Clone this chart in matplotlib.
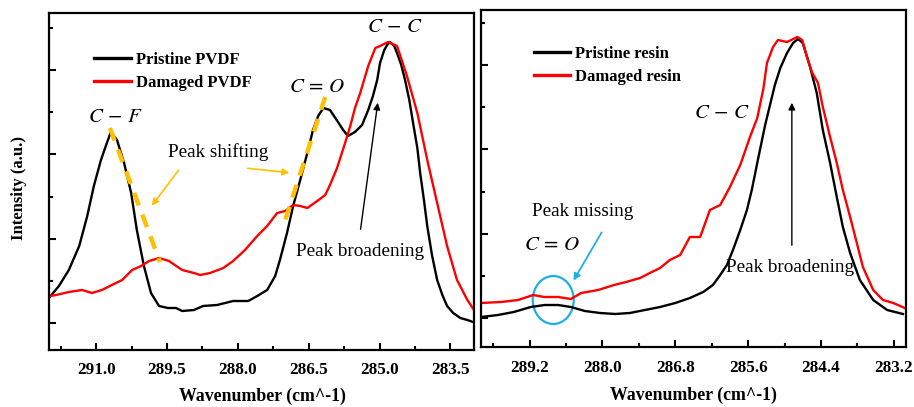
import matplotlib
matplotlib.use("Agg")
import matplotlib.pyplot as plt
from matplotlib.patches import Ellipse
from matplotlib.ticker import FixedLocator, FormatStrFormatter
import numpy as np

plt.rcParams['font.family'] = ['Liberation Serif', 'DejaVu Serif']
plt.rcParams['mathtext.fontset'] = 'stix'

# ---------------- Left panel: PVDF ----------------
pvdf_pristine_x = [292.00, 291.79, 291.58, 291.36, 291.19, 291.05, 290.90, 290.79, 290.69, 290.56,
                   290.41, 290.26, 290.14, 289.99, 289.84, 289.67, 289.48, 289.31, 289.18, 288.93,
                   288.74, 288.44, 288.10, 287.78, 287.59, 287.38, 287.21, 287.11, 286.96, 286.83,
                   286.68, 286.53, 286.41, 286.30, 286.19, 286.05, 285.88, 285.77, 285.67, 285.52,
                   285.37, 285.24, 285.14, 285.05, 284.99, 284.90, 284.84, 284.78, 284.69, 284.63,
                   284.54, 284.46, 284.37, 284.29, 284.20, 284.14, 284.06, 283.99, 283.89, 283.78,
                   283.67, 283.57, 283.44, 283.29, 283.14, 283.02]
pvdf_pristine_y = [52, 64, 80, 104, 134, 164, 190, 205, 218, 210,
                   187, 157, 120, 84, 57, 44, 42, 42, 39, 40,
                   44, 45, 49, 49, 54, 60, 74, 90, 117, 144,
                   170, 197, 220, 234, 242, 240, 228, 220, 214, 218,
                   225, 240, 254, 270, 287, 300, 305, 308, 304, 297,
                   285, 270, 250, 227, 202, 177, 150, 124, 95, 70,
                   55, 44, 37, 32, 30, 28]

pvdf_damaged_x = [291.98, 291.85, 291.58, 291.30, 291.09, 290.88, 290.67, 290.45, 290.24, 290.05,
                  289.88, 289.67, 289.46, 289.18, 288.93, 288.80, 288.59, 288.31, 288.10, 287.85,
                  287.59, 287.38, 287.17, 287.00, 286.83, 286.68, 286.53, 286.32, 286.15, 286.05,
                  285.90, 285.73, 285.62, 285.52, 285.41, 285.24, 285.09, 284.99, 284.82, 284.63,
                  284.42, 284.20, 283.99, 283.78, 283.57, 283.36, 283.14, 283.00]
pvdf_damaged_y = [54, 55, 58, 60, 57, 60, 65, 70, 80, 84,
                  89, 92, 89, 80, 77, 75, 77, 82, 89, 100,
                  114, 124, 137, 139, 145, 144, 142, 149, 155, 165,
                  182, 207, 224, 242, 257, 284, 302, 304, 308, 304,
                  274, 237, 190, 147, 104, 70, 50, 40]

# ---------------- Right panel: resin ----------------
resin_pristine_x = [290.00, 289.72, 289.46, 289.18, 288.95, 288.73, 288.52, 288.29, 288.04, 287.79,
                    287.55, 287.30, 287.05, 286.80, 286.56, 286.34, 286.18, 286.06, 285.95, 285.85,
                    285.73, 285.62, 285.54, 285.44, 285.32, 285.24, 285.16, 285.07, 284.96, 284.86,
                    284.78, 284.70, 284.58, 284.47, 284.37, 284.25, 284.14, 284.04, 283.92, 283.76,
                    283.54, 283.31, 283.05]
resin_pristine_y = [30, 32, 35, 40, 42, 42, 40, 36, 34, 33,
                    34, 37, 40, 44, 49, 55, 62, 72, 82, 97,
                    117, 137, 157, 187, 222, 242, 262, 279, 294, 304,
                    308, 304, 280, 254, 217, 184, 150, 120, 94, 67,
                    47, 37, 33]

resin_damaged_x = [290.00, 289.67, 289.39, 289.14, 288.96, 288.73, 288.52, 288.35, 288.07, 287.81,
                   287.61, 287.38, 287.22, 287.05, 286.89, 286.72, 286.56, 286.39, 286.23, 286.06,
                   285.90, 285.73, 285.57, 285.45, 285.35, 285.29, 285.19, 285.11, 284.96, 284.79,
                   284.71, 284.63, 284.55, 284.45, 284.37, 284.25, 284.14, 284.04, 283.92, 283.81,
                   283.71, 283.54, 283.38, 283.21, 283.02]
resin_damaged_y = [44, 45, 47, 52, 50, 50, 48, 54, 57, 62,
                   65, 69, 74, 79, 87, 92, 110, 110, 137, 142,
                   160, 182, 210, 229, 258, 284, 300, 307, 305, 310,
                   307, 290, 275, 264, 240, 210, 184, 157, 130, 104,
                   80, 57, 47, 44, 39]

left_ticks = [291.0, 289.5, 288.0, 286.5, 285.0, 283.5]
right_ticks = [289.2, 288.0, 286.8, 285.6, 284.4, 283.2]

W, H = 914, 407
fig = plt.figure(figsize=(W / 100, H / 100), dpi=100)

def px_axes(l, t, r, b):
    return fig.add_axes([l / W, 1 - b / H, (r - l) / W, (b - t) / H])

axL = px_axes(49, 13, 474, 350)
axR = px_axes(481, 10, 906, 347)

ORANGE = '#FFC000'
BLUE = '#1FAEE6'

def style(ax, xlim, majors, ylim, ymajor_start):
    ax.set_xlim(*xlim)
    ax.set_ylim(*ylim)
    step = majors[0] - majors[1]
    ax.xaxis.set_major_locator(FixedLocator(majors))
    ax.xaxis.set_minor_locator(FixedLocator([m + step / 2 for m in majors]))
    ax.xaxis.set_major_formatter(FormatStrFormatter('%.1f'))
    ax.set_yticks(np.arange(ymajor_start, ylim[1], 84.3))
    ax.set_yticks(np.arange(ymajor_start + 42.15, ylim[1], 84.3), minor=True)
    ax.tick_params(axis='both', which='both', direction='in', top=False, right=False, width=1.5)
    ax.tick_params(axis='both', which='major', length=5)
    ax.tick_params(axis='both', which='minor', length=3)
    ax.tick_params(axis='y', labelleft=False)
    ax.tick_params(axis='x', labelsize=12.3, pad=9)
    for lab in ax.get_xticklabels():
        lab.set_fontweight('bold')
    for s in ax.spines.values():
        s.set_linewidth(1.6)

leg_kw = dict(loc='upper left', frameon=False, handlelength=2.2, handletextpad=0.3,
              labelspacing=0.42, borderaxespad=0, prop={'weight': 'bold', 'size': 12})

# Left
axL.plot(pvdf_pristine_x, pvdf_pristine_y, color='black', lw=1.7, label='Pristine PVDF',
         solid_joinstyle='round')
axL.plot(pvdf_damaged_x, pvdf_damaged_y, color='red', lw=1.7, label='Damaged PVDF',
         solid_joinstyle='round')
style(axL, (292.0, 283.0), left_ticks, (0, 337), 27)
leg = axL.legend(bbox_to_anchor=(0.09, 0.905), **leg_kw)
for lh in leg.get_lines():
    lh.set_linewidth(2.4)

mt = 15
axL.text(290.60, 233, r'$C\,-\,F$', fontsize=mt, ha='center', va='center')
axL.text(284.67, 322, r'$C\,-\,C$', fontsize=mt, ha='center', va='center')
axL.text(286.32, 263, r'$C\,=\,O$', fontsize=mt, ha='center', va='center')
axL.text(288.42, 198, 'Peak shifting', fontsize=13.8, ha='center', va='center')
axL.text(285.41, 99, 'Peak broadening', fontsize=13.8, ha='center', va='center')
axL.plot([290.71, 289.65], [222, 88], color=ORANGE, lw=3.2, dashes=(3, 2.2))
axL.plot([286.15, 287.04], [253, 124], color=ORANGE, lw=3.2, dashes=(3, 2.2))
axL.annotate('', xy=(289.86, 142), xytext=(289.22, 182),
             arrowprops=dict(arrowstyle='-|>', color=ORANGE, lw=1.2, mutation_scale=10))
axL.annotate('', xy=(286.85, 177), xytext=(287.85, 182),
             arrowprops=dict(arrowstyle='-|>', color=ORANGE, lw=1.2, mutation_scale=10))
axL.annotate('', xy=(285.03, 250), xytext=(285.41, 118),
             arrowprops=dict(arrowstyle='-|>', color='black', lw=1.0, mutation_scale=10))

# Right
axR.plot(resin_pristine_x, resin_pristine_y, color='black', lw=1.7, label='Pristine resin',
         solid_joinstyle='round')
axR.plot(resin_damaged_x, resin_damaged_y, color='red', lw=1.7, label='Damaged resin',
         solid_joinstyle='round')
style(axR, (290.0, 283.0), right_ticks, (0, 337), 29)
leg = axR.legend(bbox_to_anchor=(0.108, 0.913), **leg_kw)
for lh in leg.get_lines():
    lh.set_linewidth(2.4)

axR.text(286.03, 234, r'$C\,-\,C$', fontsize=mt, ha='center', va='center')
axR.text(288.83, 102, r'$C\,=\,O$', fontsize=mt, ha='center', va='center')
axR.text(288.32, 135, 'Peak missing', fontsize=13.8, ha='center', va='center')
axR.text(284.91, 80, 'Peak broadening', fontsize=13.8, ha='center', va='center')
axR.annotate('', xy=(284.88, 247), xytext=(284.88, 99),
             arrowprops=dict(arrowstyle='-|>', color='black', lw=1.0, mutation_scale=10))
axR.annotate('', xy=(288.50, 64), xytext=(287.99, 117),
             arrowprops=dict(arrowstyle='-|>', color=BLUE, lw=1.3, mutation_scale=10))
axR.add_patch(Ellipse((288.81, 47), 0.675, 48, fill=False, edgecolor=BLUE, lw=1.6))

# Axis labels
fig.text(262 / W, 1 - 396 / H, 'Wavenumber (cm^-1)', ha='center', va='center',
         fontsize=12.8, fontweight='bold')
fig.text(693 / W, 1 - 395 / H, 'Wavenumber (cm^-1)', ha='center', va='center',
         fontsize=12.8, fontweight='bold')
fig.text(19 / W, 1 - 188 / H, 'Intensity (a.u.)', ha='center', va='center', rotation=90,
         fontsize=12, fontweight='bold')

fig.savefig('out.png', dpi=100)
